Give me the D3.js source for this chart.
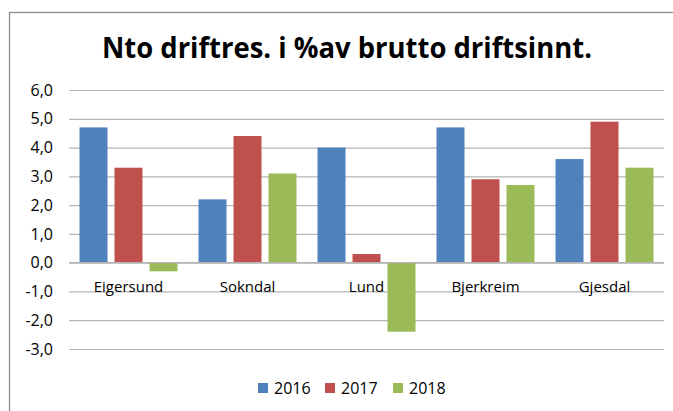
<!DOCTYPE html>
<html>
<head>
<meta charset="utf-8">
<script src="https://cdn.jsdelivr.net/npm/d3@7"></script>
<style>
  body { margin: 0; background: #fff; }
  svg { display: block; font-family: 'Open Sans', sans-serif; }
</style>
</head>
<body>
<div id="chart"></div>
<script>
const categories = ['Eigersund', 'Sokndal', 'Lund', 'Bjerkreim', 'Gjesdal'];
const years = ['2016', '2017', '2018'];
const values2016 = [4.7, 2.2, 4.0, 4.7, 3.6];
const values2017 = [3.3, 4.4, 0.3, 2.9, 4.9];
const values2018 = [-0.3, 3.1, -2.4, 2.7, 3.3];
const yTicks = [6, 5, 4, 3, 2, 1, 0, -1, -2, -3];
const colors = ['#4f81bd', '#c0504d', '#9bbb59'];

const series = [values2016, values2017, values2018];
const width = 673;
const height = 411;

const svg = d3.select('#chart')
    .append('svg')
    .attr('width', width)
    .attr('height', height);

// chart area border (right and bottom edges fall outside the picture)
svg.append('rect')
    .attr('x', 9.5)
    .attr('y', 12.5)
    .attr('width', 700)
    .attr('height', 420)
    .attr('fill', '#fff')
    .attr('stroke', '#8c8c8c')
    .attr('stroke-width', 1.3);

svg.append('text')
    .attr('x', 102)
    .attr('y', 58)
    .attr('textLength', 490)
    .attr('lengthAdjust', 'spacingAndGlyphs')
    .attr('font-size', 28)
    .attr('font-weight', 'bold')
    .attr('fill', '#000')
    .text('Nto driftres. i %av brutto driftsinnt.');

const x0 = d3.scaleBand().domain(categories).range([69, 664]).padding(0);
const x1 = d3.scaleBand().domain(years).range([0, x0.bandwidth()])
    .paddingInner(0.2).paddingOuter(0.3);
const y = d3.scaleLinear().domain([-3, 6]).range([349, 90]);

const g = svg.append('g');

// gridlines
g.append('g')
    .attr('class', 'grid')
    .call(d3.axisLeft(y).tickValues(yTicks).tickSize(-(664 - 69)).tickFormat(''))
    .attr('transform', 'translate(69,0)')
    .call(s => s.select('.domain').remove())
    .call(s => s.selectAll('line').attr('stroke', '#b4b4b4').attr('stroke-width', 1.2));

// y tick labels
g.append('g')
    .attr('transform', 'translate(69,0)')
    .call(d3.axisLeft(y).tickValues(yTicks).tickSize(0).tickPadding(16)
        .tickFormat(d => d3.format('.1f')(d).replace('.', ',').replace('−', '-')))
    .call(s => s.select('.domain').remove())
    .call(s => s.selectAll('text')
        .attr('font-family', "'Open Sans', sans-serif")
        .attr('font-size', 16)
        .attr('fill', '#000'));

// bars
const groups = g.selectAll('.cat')
    .data(categories)
    .enter()
    .append('g')
    .attr('class', 'cat')
    .attr('transform', d => `translate(${x0(d)},0)`);

groups.selectAll('rect')
    .data((d, i) => years.map((yr, j) => ({ yr, v: series[j][i], c: colors[j] })))
    .enter()
    .append('rect')
    .attr('x', d => x1(d.yr))
    .attr('width', x1.bandwidth())
    .attr('y', d => y(Math.max(0, d.v)))
    .attr('height', d => Math.abs(y(d.v) - y(0)))
    .attr('fill', d => d.c);

// zero line on top of bars
g.append('line')
    .attr('x1', 69)
    .attr('x2', 664)
    .attr('y1', y(0))
    .attr('y2', y(0))
    .attr('stroke', '#b4b4b4')
    .attr('stroke-width', 1.2);

// category labels
g.selectAll('.catlabel')
    .data(categories)
    .enter()
    .append('text')
    .attr('class', 'catlabel')
    .attr('x', d => x0(d) + x0.bandwidth() / 2)
    .attr('y', 292)
    .attr('text-anchor', 'middle')
    .attr('font-size', 15)
    .attr('fill', '#000')
    .text(d => d);

// legend
const legendX = [258, 325, 393];
const legend = svg.selectAll('.legend')
    .data(years)
    .enter()
    .append('g')
    .attr('class', 'legend')
    .attr('transform', (d, i) => `translate(${legendX[i]},383)`);

legend.append('rect')
    .attr('width', 10)
    .attr('height', 10)
    .attr('fill', (d, i) => colors[i]);

legend.append('text')
    .attr('x', 16)
    .attr('y', 10.5)
    .attr('font-size', 16)
    .attr('fill', '#000')
    .text(d => d);
</script>
</body>
</html>
